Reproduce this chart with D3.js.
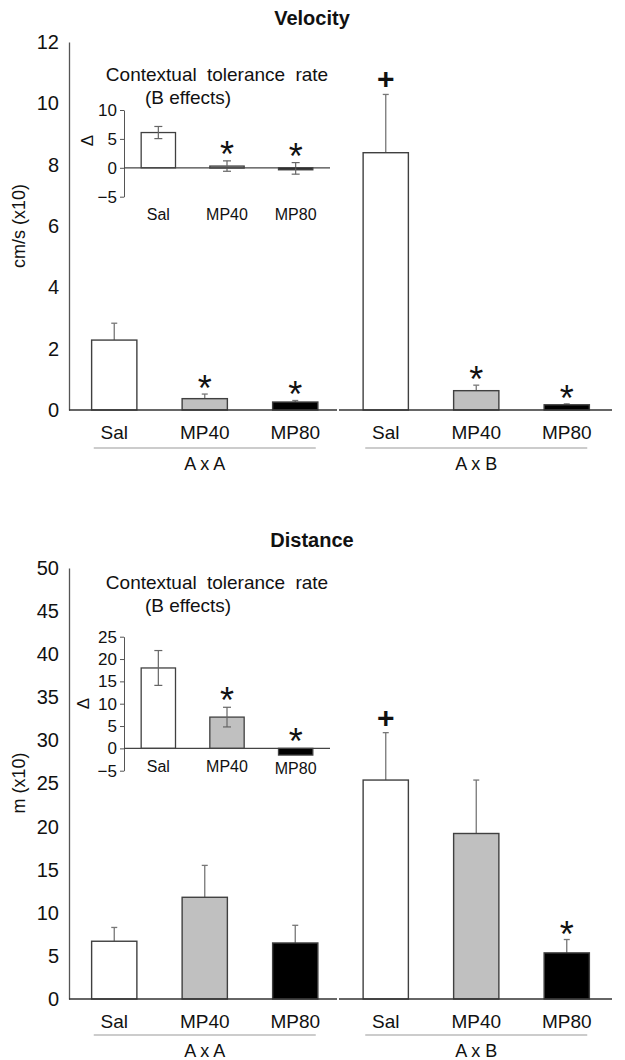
<!DOCTYPE html>
<html>
<head>
<meta charset="utf-8">
<script src="https://cdn.jsdelivr.net/npm/d3@7"></script>
<style>
  body { margin: 0; background: #fff; }
  text { font-family: "Liberation Sans", Arial, sans-serif; fill: #111; }
</style>
</head>
<body>
<div id="root"></div>
<script>
// ---- data ----
const doses = ["Sal", "MP40", "MP80"];
const groups = ["A x A", "A x B"];
const doseFill = ["#ffffff", "#c0c0c0", "#000000"];

// velocity (cm/s x10): AxA Sal, MP40, MP80, AxB Sal, MP40, MP80
const velMean = [2.28, 0.37, 0.26, 8.39, 0.63, 0.17];
const velErr = [0.55, 0.15, 0.05, 1.9, 0.18, 0.03];
const velMarks = ["", "*", "*", "+", "*", "*"];
const velTicks = [0, 2, 4, 6, 8, 10, 12];

// velocity inset (B effects, delta)
const velInsetMean = [6.1, 0.3, -0.1];
const velInsetErr = [1.05, 0.9, 1.0];
const velInsetMarks = ["", "*", "*"];
const velInsetTicks = [-5, 0, 5, 10];

// distance (m x10)
const distMean = [6.7, 11.8, 6.5, 25.4, 19.2, 5.35];
const distErr = [1.6, 3.7, 2.05, 5.5, 6.2, 1.55];
const distMarks = ["", "", "", "+", "", "*"];
const distTicks = [0, 5, 10, 15, 20, 25, 30, 35, 40, 45, 50];

// distance inset
const distInsetMean = [18, 7, -1.5];
const distInsetErr = [3.9, 2.2, 0];
const distInsetMarks = ["", "*", "*"];
const distInsetTicks = [-5, 0, 5, 10, 15, 20, 25];

const W = 625, H = 1060;
const svg = d3.select("#root").append("svg")
    .attr("width", W).attr("height", H);

const keys = groups.flatMap((g) => doses.map((d) => g + "|" + d));

// draw a marker (* or +) centred at cy
function drawMark(g, sym, cx, cy) {
    if (!sym) return;
    if (sym === "*") {
        g.append("text").attr("x", cx).attr("y", cy + 19)
            .attr("text-anchor", "middle").style("font-size", "36px")
            .text("*");
    } else {
        g.append("text").attr("x", cx).attr("y", cy + 10)
            .attr("text-anchor", "middle").style("font-size", "30px")
            .style("font-weight", "bold").text("+");
    }
}

function mainChart(opt) {
    const g = svg.append("g");
    const x = d3.scaleBand().domain(keys).range([69, 612])
        .paddingInner(0.5).paddingOuter(0.25);
    const y = d3.scaleLinear().domain(opt.domain).range(opt.range);

    // title
    g.append("text").attr("x", 312).attr("y", opt.titleY)
        .attr("text-anchor", "middle").style("font-size", "20px")
        .style("font-weight", "bold").text(opt.title);

    // y axis (no tick marks)
    const yAxis = g.append("g").attr("transform", "translate(69,0)")
        .call(d3.axisLeft(y).tickValues(opt.ticks).tickSize(0).tickPadding(10));
    yAxis.select(".domain").attr("stroke", "#555").attr("stroke-width", 1.3);
    yAxis.selectAll("text").style("font-size", "20px")
        .style("font-family", "Liberation Sans, Arial, sans-serif").attr("fill", "#111");

    g.append("text")
        .attr("transform", "translate(" + 25 + "," + opt.yTitleY + ")rotate(-90)")
        .attr("text-anchor", "middle").style("font-size", "18px")
        .text(opt.yTitle);

    // bars
    keys.forEach((k, i) => {
        const cx = x(k) + x.bandwidth() / 2;
        const top = y(opt.mean[i]), errTop = y(opt.mean[i] + opt.err[i]);
        g.append("line").attr("x1", cx).attr("x2", cx)
            .attr("y1", top).attr("y2", errTop)
            .attr("stroke", "#777").attr("stroke-width", 1.3);
        g.append("line").attr("x1", cx - 3).attr("x2", cx + 3)
            .attr("y1", errTop).attr("y2", errTop)
            .attr("stroke", "#777").attr("stroke-width", 1.3);
        g.append("rect").attr("x", x(k)).attr("width", x.bandwidth())
            .attr("y", top).attr("height", y(0) - top)
            .attr("fill", doseFill[i % 3]).attr("stroke", "#404040")
            .attr("stroke-width", 1.4);
        drawMark(g, opt.marks[i], cx, errTop - (opt.marks[i] === "+" ? 15 : 12));
        g.append("text").attr("x", cx).attr("y", y(0) + 29)
            .attr("text-anchor", "middle").style("font-size", "19px")
            .text(doses[i % 3]);
    });

    // baselines, one per group with a small gap between
    groups.forEach((gr, j) => {
        const x0 = j === 0 ? 69 : 339, x1 = j === 0 ? 337 : 612;
        g.append("line").attr("x1", x0).attr("x2", x1)
            .attr("y1", y(0)).attr("y2", y(0))
            .attr("stroke", "#333").attr("stroke-width", 1.6);
        const first = x(gr + "|" + doses[0]), last = x(gr + "|" + doses[2]) + x.bandwidth();
        const mid = (first + last) / 2;
        g.append("line").attr("x1", mid - 111).attr("x2", mid + 111)
            .attr("y1", y(0) + opt.lineOff).attr("y2", y(0) + opt.lineOff)
            .attr("stroke", "#999").attr("stroke-width", 1);
        g.append("text").attr("x", mid).attr("y", y(0) + opt.lineOff + 22)
            .attr("text-anchor", "middle").style("font-size", "18px")
            .text(gr);
    });
}

function inset(opt) {
    const g = svg.append("g");
    const x = d3.scaleBand().domain(doses).range([124, 330])
        .paddingInner(0.5).paddingOuter(0.25);
    const y = d3.scaleLinear().domain(opt.domain).range(opt.range);

    g.append("text").attr("x", 217).attr("y", opt.titleY)
        .attr("text-anchor", "middle").style("font-size", "19px")
        .style("word-spacing", "5px").text("Contextual tolerance rate");
    g.append("text").attr("x", 188).attr("y", opt.titleY + 23)
        .attr("text-anchor", "middle").style("font-size", "19px")
        .text("(B effects)");

    const yAxis = g.append("g").attr("transform", "translate(124,0)")
        .call(d3.axisLeft(y).tickValues(opt.ticks).tickSize(4).tickSizeOuter(0).tickPadding(3));
    yAxis.selectAll("path, line").attr("stroke", "#555");
    yAxis.selectAll("text").style("font-size", "17px")
        .style("font-family", "Liberation Sans, Arial, sans-serif").attr("fill", "#111");

    g.append("text")
        .attr("transform", "translate(" + opt.deltaX + "," + y(opt.deltaAt) + ")rotate(-90)")
        .attr("text-anchor", "middle").style("font-size", "17px").text("Δ");

    doses.forEach((d, i) => {
        const cx = x(d) + x.bandwidth() / 2;
        const v = y(opt.mean[i]), z = y(0);
        g.append("rect").attr("x", x(d)).attr("width", x.bandwidth())
            .attr("y", Math.min(v, z)).attr("height", Math.max(Math.abs(z - v), 2))
            .attr("fill", doseFill[i]).attr("stroke", "#404040").attr("stroke-width", 1.3);
        const hi = y(opt.mean[i] + opt.err[i]), lo = y(opt.mean[i] - opt.err[i]);
        if (opt.err[i] > 0) {
            g.append("line").attr("x1", cx).attr("x2", cx).attr("y1", hi).attr("y2", lo)
                .attr("stroke", "#666").attr("stroke-width", 1.2);
            [hi, lo].forEach((yy) => {
                g.append("line").attr("x1", cx - 4).attr("x2", cx + 4)
                    .attr("y1", yy).attr("y2", yy)
                    .attr("stroke", "#666").attr("stroke-width", 1.2);
            });
        }
        drawMark(g, opt.marks[i], cx, Math.min(hi, z) - 13);
        g.append("text").attr("x", cx).attr("y", opt.labelY + (i === 2 ? opt.lastDrop : 0))
            .attr("text-anchor", "middle").style("font-size", "16px")
            .text(d);
    });

    g.append("line").attr("x1", 124).attr("x2", 330)
        .attr("y1", y(0)).attr("y2", y(0))
        .attr("stroke", "#444").attr("stroke-width", 1.3);
}

mainChart({
    title: "Velocity", titleY: 25, yTitle: "cm/s (x10)", yTitleY: 226,
    domain: [0, 12], range: [410, 42], ticks: velTicks,
    mean: velMean, err: velErr, marks: velMarks, lineOff: 38
});
inset({
    titleY: 81, domain: [-5, 10], range: [196.7, 110], ticks: velInsetTicks,
    mean: velInsetMean, err: velInsetErr, marks: velInsetMarks,
    labelY: 220, lastDrop: 0, deltaX: 93, deltaAt: 4.7
});

mainChart({
    title: "Distance", titleY: 547, yTitle: "m (x10)", yTitleY: 783,
    domain: [0, 50], range: [999, 568], ticks: distTicks,
    mean: distMean, err: distErr, marks: distMarks, lineOff: 36
});
inset({
    titleY: 589, domain: [-5, 25], range: [770.7, 636.7], ticks: distInsetTicks,
    mean: distInsetMean, err: distInsetErr, marks: distInsetMarks,
    labelY: 772, lastDrop: 2, deltaX: 89, deltaAt: 10
});
</script>
</body>
</html>
